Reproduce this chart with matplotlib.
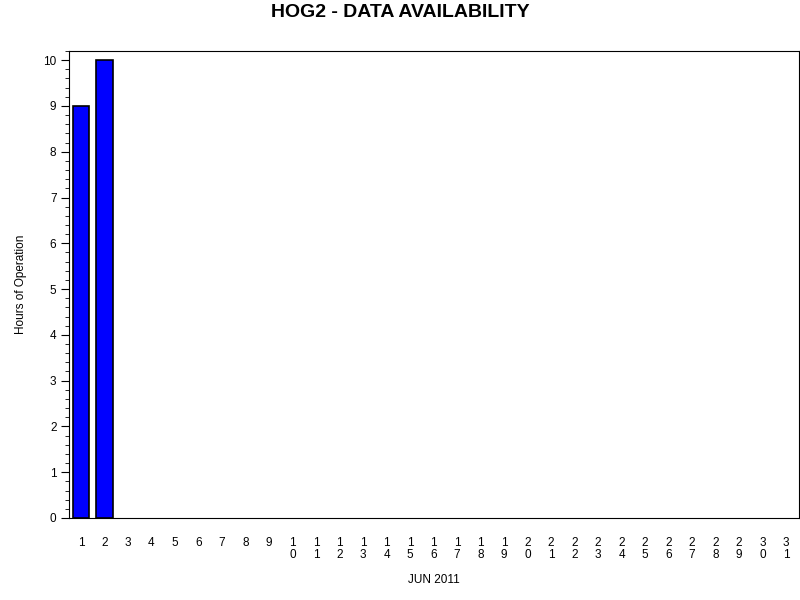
import matplotlib
matplotlib.use("Agg")
import matplotlib.pyplot as plt
from matplotlib.ticker import MultipleLocator

plt.rcParams["font.family"] = ["Liberation Sans", "DejaVu Sans"]

# daily hours of operation, June 2011
days = list(range(1, 32))
hours = [9, 10] + [0] * 29
day_labels = ["\n".join(str(d)) for d in days]

fig = plt.figure(figsize=(8, 6), dpi=100)
ax = fig.add_axes([69 / 800, 1 - 518 / 600, 730 / 800, 467 / 600])

# zero-hour days show no bar outline
edge_w = [1.2 if h > 0 else 0 for h in hours]
ax.bar(days, hours, width=0.72, color="#0000ff", edgecolor="black", linewidth=edge_w)

ax.set_xlim(0.49, 31.55)
ax.set_ylim(0, 10.2)
ax.set_xticks(days)
ax.set_xticklabels(day_labels, fontsize=8.5, linespacing=1.0)
ax.tick_params(axis="x", length=0, pad=14)
ax.yaxis.set_major_locator(MultipleLocator(1))
ax.yaxis.set_minor_locator(MultipleLocator(0.2))
ax.tick_params(axis="y", which="major", length=6, labelsize=8.5, pad=3)
ax.tick_params(axis="y", which="minor", length=3)

ax.set_xlabel("JUN 2011", fontsize=8.5, labelpad=9)
ax.set_ylabel("Hours of Operation", fontsize=8.5, labelpad=12)
fig.suptitle("HOG2 - DATA AVAILABILITY", fontsize=14, fontweight="bold", y=0.993)

fig.savefig("out.png", dpi=100)
